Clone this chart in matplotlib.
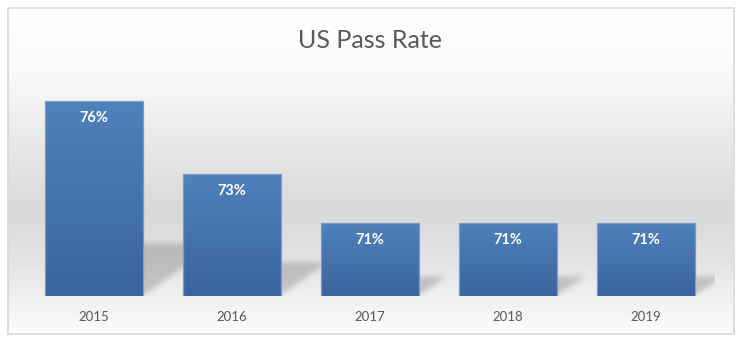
import numpy as np
import matplotlib
matplotlib.use("Agg")
import matplotlib.pyplot as plt
from matplotlib.patches import Rectangle
from matplotlib.colors import LinearSegmentedColormap

years = ["2015", "2016", "2017", "2018", "2019"]
pass_rate = [76, 73, 71, 71, 71]
title = "US Pass Rate"

ymin, ymax = 68, 78
bar_w = 0.71
font = ["Lato", "DejaVu Sans"]

fig = plt.figure(figsize=(7.4, 3.42), dpi=100)
fig.patch.set_facecolor("white")

# chart area background: white -> grey -> white, vertical
bg = fig.add_axes([0, 0, 1, 1], zorder=0)
bg.set_xlim(0, 740)
bg.set_ylim(342, 0)
bg.axis("off")
bg_cmap = LinearSegmentedColormap.from_list(
    "bg", [(0, "#ffffff"), (0.18, "#fbfbfb"), (0.62, "#d9d9d9"), (0.78, "#e4e4e4"), (1, "#fdfdfd")])
grad = np.linspace(0, 1, 256).reshape(-1, 1)
bg.imshow(grad, cmap=bg_cmap, extent=(8, 734, 334, 8), aspect="auto", vmin=0, vmax=1)
bg.add_patch(Rectangle((7.5, 7.5), 726.5, 326.5, fill=False, ec="#d9d9d9", lw=1.2))
bg.text(370, 40, title, ha="center", va="center", fontsize=18, color="#595959", family=font)

ax = fig.add_axes([25 / 740, 46 / 342, 690 / 740, 244 / 342], zorder=1)
ax.patch.set_alpha(0)
x = np.arange(len(years))
ax.set_xlim(-0.5, len(years) - 0.5)
ax.set_ylim(ymin, ymax)

# pixels per category / per data unit, used for the soft shadow raster
px_x, px_y = 138.0, 24.4


def box_blur(a, n):
    k = np.ones(n) / n
    a = np.apply_along_axis(lambda r: np.convolve(r, k, mode="same"), 1, a)
    a = np.apply_along_axis(lambda c: np.convolve(c, k, mode="same"), 0, a)
    return a


# perspective shadows: bar skewed back and to the right, blurred
for xi, v in zip(x, pass_rate):
    h = v - ymin
    dy = 0.27 * h
    dx = 1.4 * dy * px_y / px_x
    left = xi - bar_w / 2
    x0, x1 = left - 0.1, left + bar_w + dx + 0.1
    y0, y1 = ymin, ymin + dy + 0.5
    nx, ny = int((x1 - x0) * px_x), int((y1 - y0) * px_y)
    gx, gy = np.meshgrid(np.linspace(x0, x1, nx), np.linspace(y0, y1, ny))
    t = (gy - ymin) / dy
    u = (gx - left - t * dx) / bar_w
    mask = ((t >= 0) & (t <= 1) & (u >= 0) & (u <= 1)).astype(float)
    mask = box_blur(box_blur(mask, 7), 5)
    rgba = np.zeros((ny, nx, 4))
    rgba[..., :3] = 0.25
    rgba[..., 3] = 0.24 * mask
    ax.imshow(rgba, extent=(x0, x1, y0, y1), origin="lower", aspect="auto",
              interpolation="bilinear", zorder=1)

# bars with a blue vertical gradient
bars = ax.bar(x, pass_rate, width=bar_w, color="none", edgecolor="#7a9ccc", linewidth=0.9, zorder=3)
bar_cmap = LinearSegmentedColormap.from_list("bar", ["#3a659e", "#4f81bd"])
for b, v in zip(bars, pass_rate):
    im = ax.imshow(grad, cmap=bar_cmap, extent=(b.get_x(), b.get_x() + b.get_width(), ymin, v),
                   aspect="auto", origin="lower", zorder=2)
    im.set_clip_path(b)
    ax.annotate(f"{v}%", (b.get_x() + b.get_width() / 2, v), xytext=(0, -12.5),
                textcoords="offset points", ha="center", va="center",
                fontsize=10.5, fontweight="bold", color="white", family=font, zorder=4)

ax.set_xticks(x, years)
ax.tick_params(axis="x", length=0, pad=11, labelsize=9.5, labelcolor="#595959")
for lab in ax.get_xticklabels():
    lab.set_family(font)
ax.set_yticks([])
for s in ax.spines.values():
    s.set_visible(False)
ax.set_xlim(-0.5, len(years) - 0.5)
ax.set_ylim(ymin, ymax)

fig.savefig("out.png", dpi=100)
